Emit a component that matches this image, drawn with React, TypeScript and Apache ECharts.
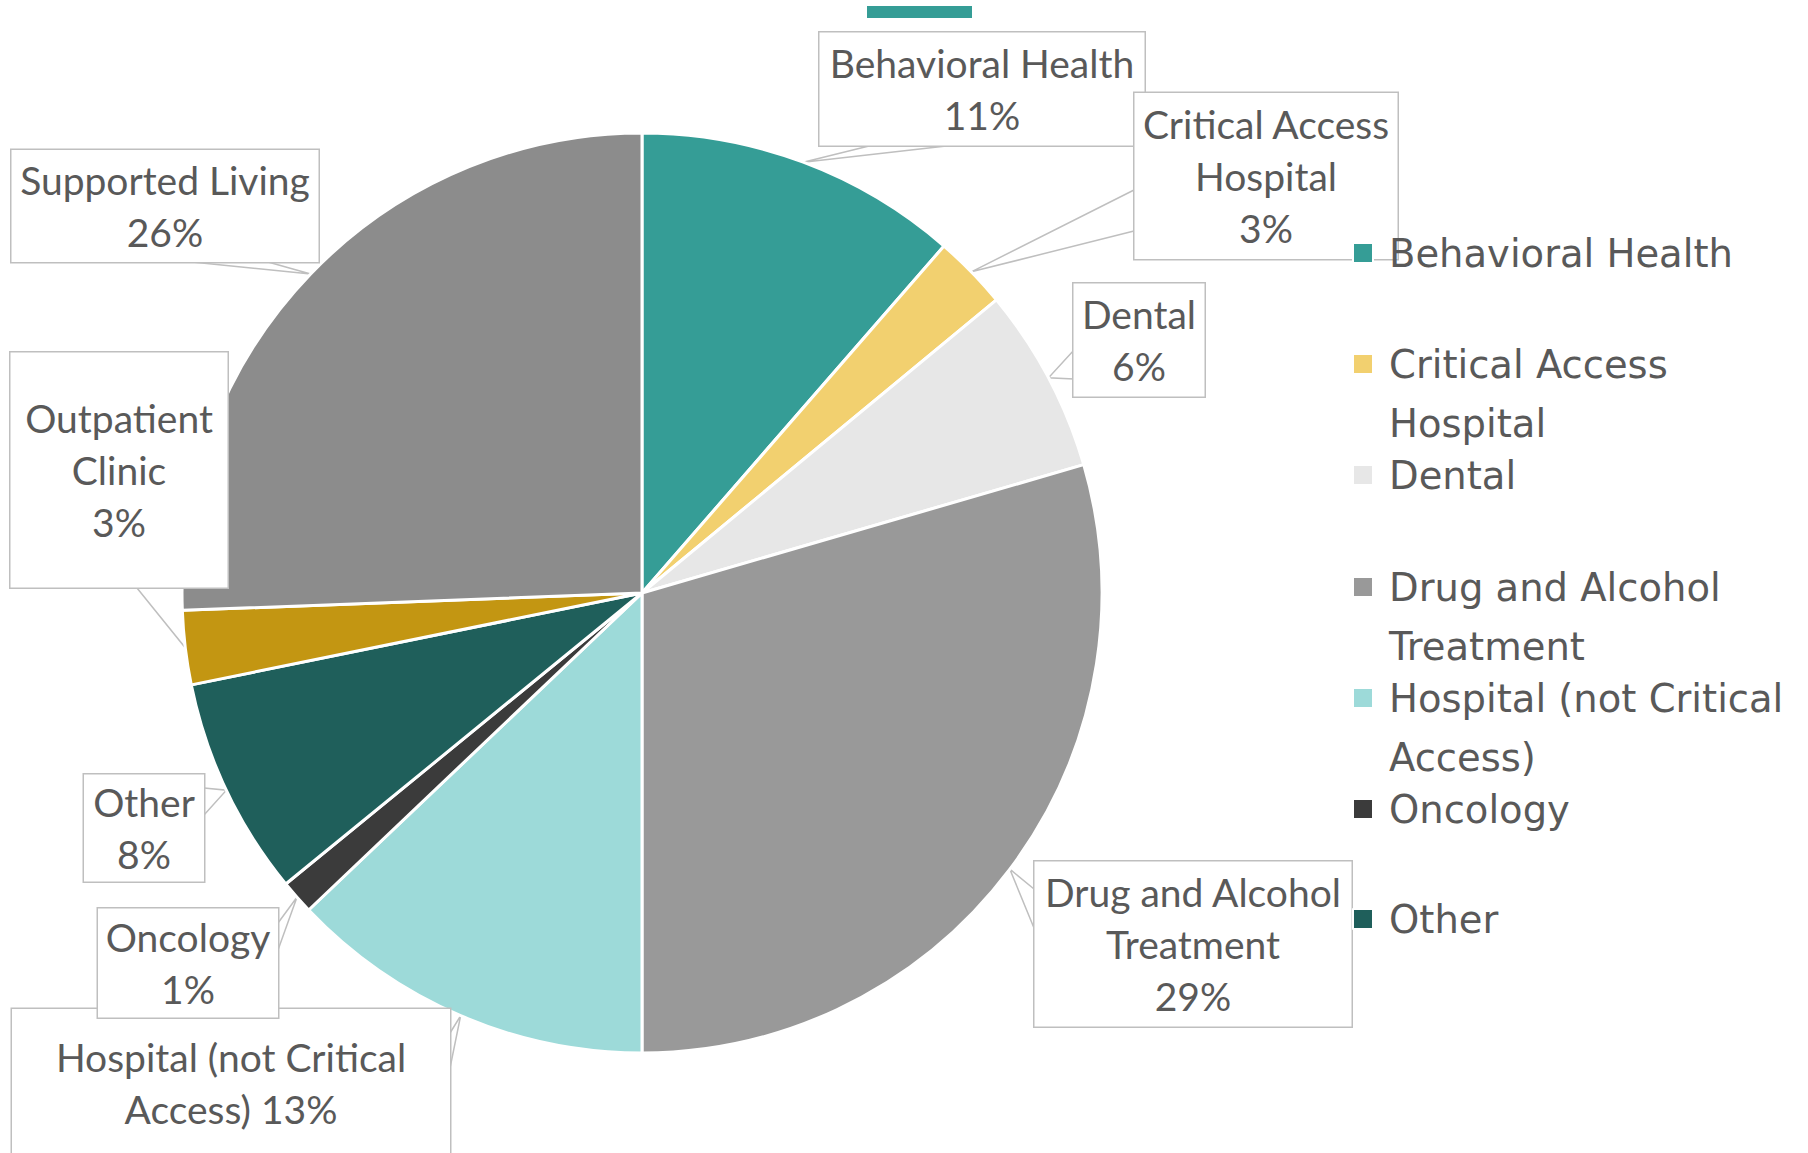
import React, { useEffect, useRef } from 'react';
import * as echarts from 'echarts';

// ---------- data ----------
const categories = [
  'Behavioral Health',
  'Critical Access Hospital',
  'Dental',
  'Drug and Alcohol Treatment',
  'Hospital (not Critical Access)',
  'Oncology',
  'Other',
  'Outpatient Clinic',
  'Supported Living',
];
const values = [11.4, 2.6, 6.5, 29.5, 12.9, 1.2, 7.7, 2.6, 25.6];

// label texts (wrapped as in the reference)
const labelNames = [
  'Behavioral Health',
  'Critical Access\nHospital',
  'Dental',
  'Drug and Alcohol\nTreatment',
  'Hospital (not Critical\nAccess)',
  'Oncology',
  'Other',
  'Outpatient\nClinic',
  'Supported Living',
];
const labelSeps = ['\n', '\n', '\n', '\n', ' ', '\n', '\n', '\n', '\n'];

// legend entries (the reference legend shows the first seven)
const legendNames = categories.slice(0, 7);
const legendTexts = [
  'Behavioral Health',
  'Critical Access\nHospital',
  'Dental',
  'Drug and Alcohol\nTreatment',
  'Hospital (not Critical\nAccess)',
  'Oncology',
  'Other',
];

// ---------- styles / layout ----------
const colors = ['#359D96', '#F2D06F', '#E7E7E7', '#999999', '#9DDAD9', '#3B3B3B', '#1F5F5B', '#C39612', '#8C8C8C'];
const labelCenters = [
  [982, 89], [1266, 176], [1139, 340], [1193, 944], [231, 1083],
  [188, 963], [144, 828], [119, 470], [165, 206],
];
const labelSizes = [
  [325, 113], [263, 166], [131, 113], [317, 165], [438, 148],
  [180, 109], [120, 107], [217, 235], [307, 112],
];
// callout tail base points on each label box edge
const tailBases = [
  [[873, 145], [955, 145]],
  [[1134, 190], [1134, 231]],
  [[1074, 350], [1074, 379]],
  [[1034, 889], [1034, 928]],
  [[450, 1033], [450, 1068]],
  [[278, 923], [278, 950]],
  [[204, 788], [204, 815]],
  [[137, 588], [191, 588]],
  [[192, 262], [268, 262]],
];
const legendIconY = [253, 364, 475, 587, 698, 809, 919];
const LABEL_LH = 52;
const LEG_LH = 59;
const TEXT_COLOR = '#595959';

export default function App() {
  const ref = useRef<HTMLDivElement>(null);
  useEffect(() => {
    if (!ref.current) return;
    const chart = echarts.init(ref.current, undefined, { renderer: 'svg' });

    const data = categories.map((name, i) => {
      const fullText = labelNames[i] + labelSeps[i] + '00%';
      const n = fullText.split('\n').length;
      const [w, h] = labelSizes[i];
      const pv = Math.max(0, (h - n * LABEL_LH) / 2);
      return {
        name,
        value: values[i],
        itemStyle: { color: colors[i] },
        label: { width: w, padding: [pv, 0, pv, 0] },
      };
    });

    const legends = legendNames.map((name, i) => {
      const n = legendTexts[i].split('\n').length;
      // empty leading lines keep the first text line level with the icon
      const shown = '\n'.repeat(n - 1) + legendTexts[i];
      return {
        data: [name],
        orient: 'vertical',
        left: 1352,
        top: legendIconY[i] - ((2 * n - 1) * LEG_LH) / 2,
        padding: 0,
        itemWidth: 20,
        itemHeight: 20,
        icon: 'rect',
        selectedMode: false,
        formatter: () => shown,
        textStyle: {
          fontFamily: 'DejaVu Sans',
          fontSize: 38.5,
          color: TEXT_COLOR,
          lineHeight: LEG_LH,
          padding: [0, 0, 0, 11],
          backgroundColor: 'rgba(0,0,0,0)',
        },
      };
    });

    const option: any = {
      animation: false,
      backgroundColor: '#ffffff',
      legend: legends,
      graphic: [
        {
          type: 'rect',
          left: 867,
          top: 6,
          shape: { width: 105, height: 12 },
          style: { fill: '#359D96' },
        },
      ],
      series: [
        {
          type: 'pie',
          center: [642, 593],
          radius: 460,
          startAngle: 90,
          clockwise: true,
          avoidLabelOverlap: false,
          percentPrecision: 0,
          emphasis: { disabled: true },
          itemStyle: { borderColor: '#ffffff', borderWidth: 3 },
          label: {
            show: true,
            position: 'outside',
            formatter: (p: any) => labelNames[p.dataIndex] + labelSeps[p.dataIndex] + p.percent + '%',
            fontFamily: 'Lato',
            fontSize: 39,
            lineHeight: LABEL_LH,
            color: TEXT_COLOR,
            backgroundColor: '#ffffff',
            borderColor: '#BFBFBF',
            borderWidth: 1.5,
            align: 'center',
          },
          labelLine: {
            show: true,
            length: 10,
            length2: 10,
            lineStyle: { color: '#BFBFBF', width: 1.5 },
          },
          labelLayout: (params: any) => {
            const i = params.dataIndex;
            const [cx, cy] = labelCenters[i];
            const pts = params.labelLinePoints;
            const p0 = pts && pts[0] ? pts[0] : [cx, cy];
            const [b1, b2] = tailBases[i];
            return {
              x: cx,
              y: cy,
              align: 'center',
              verticalAlign: 'middle',
              labelLinePoints: [
                [b1[0], b1[1]],
                [p0[0], p0[1]],
                [b2[0], b2[1]],
              ],
            };
          },
          data,
        },
      ],
    };
    chart.setOption(option);
    return () => chart.dispose();
  }, []);

  return (
    <div
      ref={ref}
      style={{ position: 'absolute', left: 0, top: 0, width: 1808, height: 1153, background: '#fff' }}
    />
  );
}
